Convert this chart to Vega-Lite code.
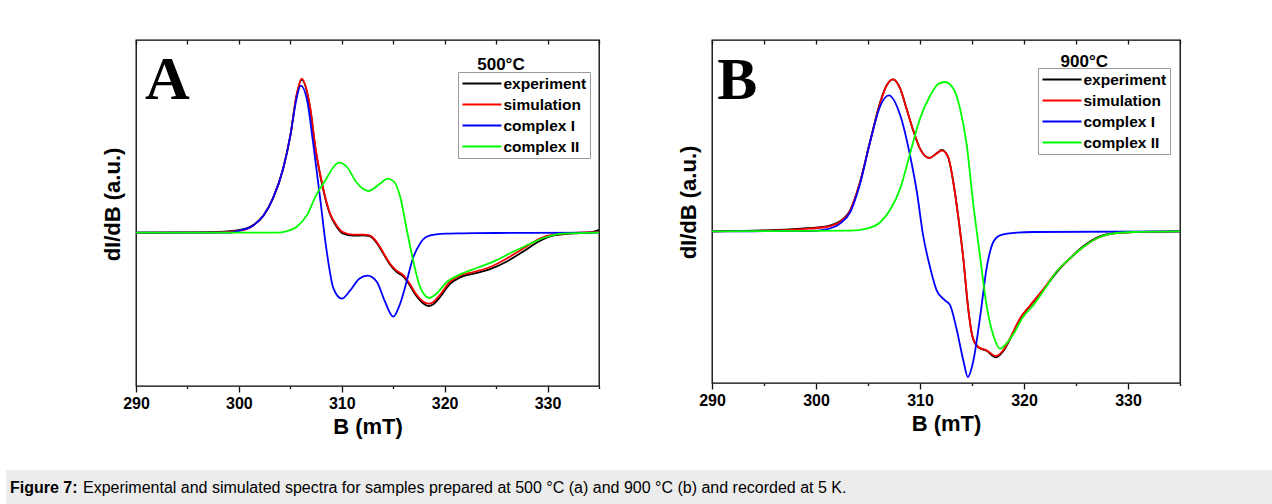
{
"$schema": "https://vega.github.io/schema/vega-lite/v6.json",
"autosize": {"type": "pad"},
"padding": {"left": 6, "top": 38, "right": 0, "bottom": 0},
"background": "white",
"spacing": 430,
"bounds": "flush",
"config": {
  "view": {"stroke": "#000", "strokeWidth": 1.3},
  "axis": {"grid": false, "labelFlush": false, "labelOverlap": false, "labelFont": "Liberation Sans", "labelFontWeight": "bold", "labelFontSize": 16, "labelColor": "#000", "titleFont": "Liberation Sans", "titleFontWeight": "bold", "titleFontSize": 22, "titleColor": "#000", "tickColor": "#111", "tickWidth": 1.3},
  "legend": {"labelFont": "Liberation Sans", "labelFontWeight": "bold", "labelFontSize": 15.5, "labelColor": "#000"}
},
"vconcat": [
{
"hconcat": [
{
  "width": 17, "height": 430, "view": {"stroke": null},
  "data": {"values": [{"t": " "}]},
  "mark": {"type": "text"},
  "encoding": {"text": {"field": "t"}}
},
{
  "width": 463, "height": 346,
  "data": {"values": [
{"s":"experiment","B":290,"v":0},{"s":"experiment","B":295,"v":0.3},{"s":"experiment","B":298,"v":0.7},{"s":"experiment","B":300.1,"v":2.7},{"s":"experiment","B":301.4,"v":7.7},{"s":"experiment","B":302.4,"v":17.3},{"s":"experiment","B":303.3,"v":34},{"s":"experiment","B":304.3,"v":64},{"s":"experiment","B":305,"v":97},{"s":"experiment","B":305.6,"v":137},{"s":"experiment","B":306.1,"v":153},{"s":"experiment","B":306.9,"v":126},{"s":"experiment","B":307.5,"v":80},{"s":"experiment","B":308.2,"v":43},{"s":"experiment","B":308.8,"v":20},{"s":"experiment","B":309.5,"v":6},{"s":"experiment","B":310.1,"v":-0.7},{"s":"experiment","B":311.1,"v":-3},{"s":"experiment","B":312.1,"v":-2.7},{"s":"experiment","B":312.7,"v":-3.3},{"s":"experiment","B":313.4,"v":-10.3},{"s":"experiment","B":314,"v":-20.3},{"s":"experiment","B":314.7,"v":-32},{"s":"experiment","B":315.3,"v":-39},{"s":"experiment","B":316,"v":-44},{"s":"experiment","B":316.6,"v":-52.5},{"s":"experiment","B":317.2,"v":-62.5},{"s":"experiment","B":317.9,"v":-70.5},{"s":"experiment","B":318.4,"v":-73.3},{"s":"experiment","B":318.9,"v":-71.5},{"s":"experiment","B":319.5,"v":-65},{"s":"experiment","B":320.5,"v":-51.5},{"s":"experiment","B":321.5,"v":-44.7},{"s":"experiment","B":322.8,"v":-41},{"s":"experiment","B":324.4,"v":-36.5},{"s":"experiment","B":326,"v":-29},{"s":"experiment","B":327.6,"v":-19},{"s":"experiment","B":329.2,"v":-8.5},{"s":"experiment","B":330.5,"v":-3},{"s":"experiment","B":332.5,"v":-0.7},{"s":"experiment","B":334,"v":0},{"s":"experiment","B":334.6,"v":1.5},{"s":"experiment","B":335,"v":3},
{"s":"simulation","B":290,"v":0},{"s":"simulation","B":298,"v":0.3},{"s":"simulation","B":300.1,"v":2},{"s":"simulation","B":301.4,"v":7.3},{"s":"simulation","B":302.4,"v":17.3},{"s":"simulation","B":303.3,"v":34},{"s":"simulation","B":304.3,"v":64},{"s":"simulation","B":305,"v":97},{"s":"simulation","B":305.6,"v":137},{"s":"simulation","B":306.1,"v":154},{"s":"simulation","B":306.9,"v":127},{"s":"simulation","B":307.5,"v":81},{"s":"simulation","B":308.2,"v":44},{"s":"simulation","B":308.8,"v":21},{"s":"simulation","B":309.5,"v":7.3},{"s":"simulation","B":310.1,"v":0.7},{"s":"simulation","B":311.1,"v":-2},{"s":"simulation","B":312.1,"v":-2},{"s":"simulation","B":312.7,"v":-2.7},{"s":"simulation","B":313.4,"v":-9.3},{"s":"simulation","B":314,"v":-19.3},{"s":"simulation","B":314.7,"v":-31},{"s":"simulation","B":315.3,"v":-37.7},{"s":"simulation","B":316,"v":-42.7},{"s":"simulation","B":316.6,"v":-51},{"s":"simulation","B":317.2,"v":-61},{"s":"simulation","B":317.9,"v":-68.7},{"s":"simulation","B":318.4,"v":-71},{"s":"simulation","B":318.9,"v":-69.3},{"s":"simulation","B":319.5,"v":-62.7},{"s":"simulation","B":320.5,"v":-49.3},{"s":"simulation","B":321.5,"v":-42.7},{"s":"simulation","B":322.8,"v":-39.3},{"s":"simulation","B":324.4,"v":-34.3},{"s":"simulation","B":326,"v":-26},{"s":"simulation","B":327.6,"v":-16},{"s":"simulation","B":329.2,"v":-6},{"s":"simulation","B":330.5,"v":-2},{"s":"simulation","B":332.5,"v":-0.3},{"s":"simulation","B":335,"v":0.7},
{"s":"complex I","B":290,"v":0},{"s":"complex I","B":299,"v":0},{"s":"complex I","B":300.1,"v":2.3},{"s":"complex I","B":301.4,"v":7.3},{"s":"complex I","B":302.4,"v":17.3},{"s":"complex I","B":303.3,"v":34},{"s":"complex I","B":304.3,"v":64},{"s":"complex I","B":305,"v":97},{"s":"complex I","B":305.6,"v":134},{"s":"complex I","B":306,"v":147},{"s":"complex I","B":306.6,"v":134},{"s":"complex I","B":307.2,"v":91},{"s":"complex I","B":307.9,"v":34},{"s":"complex I","B":308.5,"v":-16},{"s":"complex I","B":309.2,"v":-56},{"s":"complex I","B":310,"v":-66},{"s":"complex I","B":310.8,"v":-58},{"s":"complex I","B":311.7,"v":-46},{"s":"complex I","B":312.5,"v":-43},{"s":"complex I","B":313.4,"v":-49},{"s":"complex I","B":314.2,"v":-69},{"s":"complex I","B":315,"v":-84},{"s":"complex I","B":315.6,"v":-73},{"s":"complex I","B":316.3,"v":-49},{"s":"complex I","B":316.9,"v":-26},{"s":"complex I","B":317.6,"v":-11},{"s":"complex I","B":318.2,"v":-4.3},{"s":"complex I","B":319.2,"v":-1.7},{"s":"complex I","B":320.2,"v":-1},{"s":"complex I","B":321.8,"v":-0.7},{"s":"complex I","B":325,"v":-0.3},{"s":"complex I","B":335,"v":0},
{"s":"complex II","B":290,"v":0},{"s":"complex II","B":303.7,"v":0},{"s":"complex II","B":304.6,"v":1.3},{"s":"complex II","B":305.6,"v":5.7},{"s":"complex II","B":306.6,"v":17.3},{"s":"complex II","B":307.5,"v":37.3},{"s":"complex II","B":308.5,"v":54},{"s":"complex II","B":309.2,"v":65.7},{"s":"complex II","B":309.7,"v":70},{"s":"complex II","B":310.5,"v":65.7},{"s":"complex II","B":311.4,"v":50.7},{"s":"complex II","B":312.6,"v":41.7},{"s":"complex II","B":313.7,"v":49},{"s":"complex II","B":314.5,"v":54},{"s":"complex II","B":315.1,"v":50.7},{"s":"complex II","B":315.7,"v":35},{"s":"complex II","B":316.3,"v":4},{"s":"complex II","B":316.9,"v":-26},{"s":"complex II","B":317.6,"v":-54},{"s":"complex II","B":318.5,"v":-65.3},{"s":"complex II","B":319.2,"v":-61},{"s":"complex II","B":320.2,"v":-49.3},{"s":"complex II","B":321.5,"v":-41.7},{"s":"complex II","B":323.4,"v":-34.3},{"s":"complex II","B":325,"v":-27.7},{"s":"complex II","B":326.6,"v":-19.3},{"s":"complex II","B":328.3,"v":-11},{"s":"complex II","B":329.9,"v":-4.3},{"s":"complex II","B":331.5,"v":-1},{"s":"complex II","B":335,"v":0}
  ]},
  "layer": [
    {
      "mark": {"type": "line", "strokeWidth": 1.8, "interpolate": "monotone"},
      "encoding": {
        "x": {"field": "B", "type": "quantitative", "scale": {"domain": [290, 335], "nice": false, "zero": false},
              "axis": {"orient": "bottom", "values": [290, 300, 310, 320, 330], "title": "B (mT)", "domain": false, "tickSize": 6, "labelPadding": 3, "titlePadding": 5}},
        "y": {"field": "v", "type": "quantitative", "scale": {"domain": [-153.3, 192.7], "nice": false, "zero": false},
              "axis": {"orient": "left", "title": "dI/dB (a.u.)", "domain": false, "ticks": false, "labels": false, "titlePadding": 12, "titleY": 164}},
        "color": {"field": "s", "type": "nominal",
                  "scale": {"domain": ["experiment", "simulation", "complex I", "complex II"], "range": ["#000000", "#ff0000", "#0000ff", "#00ff00"]},
                  "legend": {"orient": "none", "legendX": 322, "legendY": 32, "title": null, "symbolType": "M-2.6,0H2.6", "symbolSize": 225, "symbolStrokeWidth": 1.8, "symbolOffset": 12.5, "strokeColor": "#999", "padding": 3, "rowPadding": 4, "labelOffset": 13, "labelLimit": 300}}
      }
    },
    {
      "data": {"values": [{"B": 325.47, "v": 162.7, "t": "500°C"}]},
      "mark": {"type": "text", "font": "Liberation Sans", "fontWeight": "bold", "fontSize": 17, "align": "center", "baseline": "alphabetic", "color": "#000"},
      "encoding": {
        "x": {"field": "B", "type": "quantitative", "axis": {"orient": "bottom", "values": [295, 305, 315, 325, 335], "labels": false, "domain": false, "tickSize": 2.5, "title": null}},
        "y": {"field": "v", "type": "quantitative", "axis": null},
        "text": {"field": "t"}
      }
    },
    {
      "data": {"values": [{"B": 290.87, "v": 134, "t": "A"}]},
      "mark": {"type": "text", "font": "Liberation Serif", "fontWeight": "bold", "fontSize": 62, "align": "left", "baseline": "alphabetic", "color": "#000"},
      "encoding": {
        "x": {"field": "B", "type": "quantitative", "axis": {"orient": "top", "values": [290, 295, 300, 305, 310, 315, 320, 325, 330, 335], "labels": false, "domain": false, "tickSize": -4, "title": null}},
        "y": {"field": "v", "type": "quantitative", "axis": null},
        "text": {"field": "t"}
      }
    }
  ],
  "resolve": {"axis": {"x": "independent", "y": "independent"}}
},
{
  "width": 468, "height": 343,
  "data": {"values": [
{"s":"experiment","B":290,"v":0},{"s":"experiment","B":295.3,"v":1},{"s":"experiment","B":298.5,"v":2.7},{"s":"experiment","B":301,"v":5},{"s":"experiment","B":302.3,"v":10},{"s":"experiment","B":303.3,"v":21.5},{"s":"experiment","B":304.2,"v":48},{"s":"experiment","B":305.2,"v":90},{"s":"experiment","B":306.2,"v":130},{"s":"experiment","B":306.8,"v":146},{"s":"experiment","B":307.4,"v":152},{"s":"experiment","B":308.1,"v":142.7},{"s":"experiment","B":308.7,"v":122.7},{"s":"experiment","B":309.4,"v":99.3},{"s":"experiment","B":310,"v":82.7},{"s":"experiment","B":310.9,"v":73.3},{"s":"experiment","B":311.6,"v":78},{"s":"experiment","B":312.1,"v":81.5},{"s":"experiment","B":312.7,"v":74.3},{"s":"experiment","B":313.2,"v":49.3},{"s":"experiment","B":313.7,"v":12.7},{"s":"experiment","B":314.2,"v":-30.7},{"s":"experiment","B":314.6,"v":-74},{"s":"experiment","B":315.1,"v":-107.3},{"s":"experiment","B":315.6,"v":-116},{"s":"experiment","B":316.4,"v":-119.5},{"s":"experiment","B":317.3,"v":-126},{"s":"experiment","B":318,"v":-120},{"s":"experiment","B":318.8,"v":-105},{"s":"experiment","B":319.6,"v":-88},{"s":"experiment","B":320.6,"v":-74.5},{"s":"experiment","B":321.9,"v":-58},{"s":"experiment","B":323.1,"v":-41.5},{"s":"experiment","B":324.4,"v":-27.3},{"s":"experiment","B":325.7,"v":-15},{"s":"experiment","B":327.3,"v":-5},{"s":"experiment","B":328.9,"v":-1.7},{"s":"experiment","B":330.5,"v":-0.7},{"s":"experiment","B":335,"v":0},
{"s":"simulation","B":290,"v":0},{"s":"simulation","B":295.3,"v":0.7},{"s":"simulation","B":298.5,"v":2},{"s":"simulation","B":301,"v":4.3},{"s":"simulation","B":302.3,"v":9.3},{"s":"simulation","B":303.3,"v":21},{"s":"simulation","B":304.2,"v":47.7},{"s":"simulation","B":305.2,"v":89.3},{"s":"simulation","B":306.2,"v":129.3},{"s":"simulation","B":306.8,"v":146},{"s":"simulation","B":307.4,"v":152},{"s":"simulation","B":308.1,"v":142.7},{"s":"simulation","B":308.7,"v":122.7},{"s":"simulation","B":309.4,"v":99.3},{"s":"simulation","B":310,"v":82.7},{"s":"simulation","B":310.9,"v":73.3},{"s":"simulation","B":311.6,"v":77.7},{"s":"simulation","B":312.1,"v":81},{"s":"simulation","B":312.7,"v":74.3},{"s":"simulation","B":313.2,"v":49.3},{"s":"simulation","B":313.7,"v":12.7},{"s":"simulation","B":314.2,"v":-30.7},{"s":"simulation","B":314.6,"v":-74},{"s":"simulation","B":315.1,"v":-107.3},{"s":"simulation","B":315.6,"v":-115.7},{"s":"simulation","B":316.4,"v":-119},{"s":"simulation","B":317.3,"v":-124.7},{"s":"simulation","B":318,"v":-119},{"s":"simulation","B":318.8,"v":-104},{"s":"simulation","B":319.6,"v":-87.3},{"s":"simulation","B":320.6,"v":-74},{"s":"simulation","B":321.9,"v":-57.3},{"s":"simulation","B":323.1,"v":-40.7},{"s":"simulation","B":324.4,"v":-27.3},{"s":"simulation","B":325.7,"v":-15.7},{"s":"simulation","B":327.3,"v":-5.7},{"s":"simulation","B":328.9,"v":-1.7},{"s":"simulation","B":330.5,"v":-0.7},{"s":"simulation","B":335,"v":0},
{"s":"complex I","B":290,"v":0},{"s":"complex I","B":299.4,"v":0.3},{"s":"complex I","B":301,"v":2},{"s":"complex I","B":302.3,"v":7.7},{"s":"complex I","B":303.3,"v":19.3},{"s":"complex I","B":304.2,"v":46},{"s":"complex I","B":305.2,"v":89.3},{"s":"complex I","B":306.2,"v":126},{"s":"complex I","B":307,"v":136},{"s":"complex I","B":308.1,"v":116},{"s":"complex I","B":309.04,"v":76},{"s":"complex I","B":309.7,"v":39.3},{"s":"complex I","B":310.3,"v":-4},{"s":"complex I","B":311,"v":-37.3},{"s":"complex I","B":311.6,"v":-59},{"s":"complex I","B":312.4,"v":-69},{"s":"complex I","B":312.9,"v":-74},{"s":"complex I","B":313.5,"v":-97},{"s":"complex I","B":314.2,"v":-130.7},{"s":"complex I","B":314.6,"v":-145.7},{"s":"complex I","B":315.1,"v":-131},{"s":"complex I","B":315.8,"v":-84},{"s":"complex I","B":316.4,"v":-37},{"s":"complex I","B":317.05,"v":-10.7},{"s":"complex I","B":317.7,"v":-4},{"s":"complex I","B":319.3,"v":-1.3},{"s":"complex I","B":320.9,"v":-0.7},{"s":"complex I","B":335,"v":0},
{"s":"complex II","B":290,"v":0},{"s":"complex II","B":303.3,"v":0.7},{"s":"complex II","B":304.9,"v":2.7},{"s":"complex II","B":306.2,"v":9.3},{"s":"complex II","B":307.1,"v":21},{"s":"complex II","B":308.1,"v":42.7},{"s":"complex II","B":309,"v":76},{"s":"complex II","B":310,"v":112.7},{"s":"complex II","B":311,"v":136},{"s":"complex II","B":311.8,"v":147.7},{"s":"complex II","B":312.4,"v":149.3},{"s":"complex II","B":313.2,"v":142.7},{"s":"complex II","B":313.85,"v":122.7},{"s":"complex II","B":314.5,"v":86},{"s":"complex II","B":315.1,"v":29.3},{"s":"complex II","B":315.8,"v":-27.3},{"s":"complex II","B":316.4,"v":-74},{"s":"complex II","B":317.05,"v":-104},{"s":"complex II","B":317.7,"v":-117.3},{"s":"complex II","B":318.3,"v":-112.3},{"s":"complex II","B":319.1,"v":-100.7},{"s":"complex II","B":319.9,"v":-85.7},{"s":"complex II","B":320.9,"v":-74},{"s":"complex II","B":321.9,"v":-59},{"s":"complex II","B":323.1,"v":-40.7},{"s":"complex II","B":324.4,"v":-27.3},{"s":"complex II","B":325.7,"v":-15.7},{"s":"complex II","B":327.3,"v":-5.7},{"s":"complex II","B":328.9,"v":-1.7},{"s":"complex II","B":330.5,"v":-0.7},{"s":"complex II","B":335,"v":0}
  ]},
  "layer": [
    {
      "mark": {"type": "line", "strokeWidth": 1.8, "interpolate": "monotone"},
      "encoding": {
        "x": {"field": "B", "type": "quantitative", "scale": {"domain": [290, 335], "nice": false, "zero": false},
              "axis": {"orient": "bottom", "values": [290, 300, 310, 320, 330], "title": "B (mT)", "domain": false, "tickSize": 6, "labelPadding": 3, "titlePadding": 5}},
        "y": {"field": "v", "type": "quantitative", "scale": {"domain": [-151.7, 191.3], "nice": false, "zero": false},
              "axis": {"orient": "left", "title": "dI/dB (a.u.)", "domain": false, "ticks": false, "labels": false, "titlePadding": 12, "titleY": 162}},
        "color": {"field": "s", "type": "nominal",
                  "scale": {"domain": ["experiment", "simulation", "complex I", "complex II"], "range": ["#000000", "#ff0000", "#0000ff", "#00ff00"]},
                  "legend": {"orient": "none", "legendX": 326, "legendY": 28, "title": null, "symbolType": "M-2.6,0H2.6", "symbolSize": 225, "symbolStrokeWidth": 1.8, "symbolOffset": 12.5, "strokeColor": "#999", "padding": 3, "rowPadding": 4, "labelOffset": 13, "labelLimit": 300}}
      }
    },
    {
      "data": {"values": [{"B": 325.8, "v": 164.6, "t": "900°C"}]},
      "mark": {"type": "text", "font": "Liberation Sans", "fontWeight": "bold", "fontSize": 17, "align": "center", "baseline": "alphabetic", "color": "#000"},
      "encoding": {
        "x": {"field": "B", "type": "quantitative", "axis": {"orient": "bottom", "values": [295, 305, 315, 325, 335], "labels": false, "domain": false, "tickSize": 2.5, "title": null}},
        "y": {"field": "v", "type": "quantitative", "axis": null},
        "text": {"field": "t"}
      }
    },
    {
      "data": {"values": [{"B": 290.5, "v": 132, "t": "B"}]},
      "mark": {"type": "text", "font": "Liberation Serif", "fontWeight": "bold", "fontSize": 60, "align": "left", "baseline": "alphabetic", "color": "#000"},
      "encoding": {
        "x": {"field": "B", "type": "quantitative", "axis": {"orient": "top", "values": [290, 295, 300, 305, 310, 315, 320, 325, 330, 335], "labels": false, "domain": false, "tickSize": -4, "title": null}},
        "y": {"field": "v", "type": "quantitative", "axis": null},
        "text": {"field": "t"}
      }
    }
  ],
  "resolve": {"axis": {"x": "independent", "y": "independent"}}
}
],
"spacing": 113,
"bounds": "flush",
"resolve": {"scale": {"x": "independent", "y": "independent", "color": "independent"}, "legend": {"color": "independent"}, "axis": {"x": "independent", "y": "independent"}}
},
{
  "width": 1266, "height": 36, "view": {"fill": "#ececec", "stroke": null},
  "layer": [
    {
      "data": {"values": [{"t": "Figure 7:"}]},
      "mark": {"type": "text", "font": "Liberation Sans", "fontWeight": "bold", "fontSize": 16, "align": "left", "baseline": "middle", "color": "#000"},
      "encoding": {"x": {"value": 4}, "y": {"value": 18}, "text": {"field": "t"}}
    },
    {
      "data": {"values": [{"t": "Experimental and simulated spectra for samples prepared at 500 °C (a) and 900 °C (b) and recorded at 5 K."}]},
      "mark": {"type": "text", "font": "Liberation Sans", "fontWeight": "normal", "fontSize": 16, "align": "left", "baseline": "middle", "color": "#000"},
      "encoding": {"x": {"value": 77}, "y": {"value": 18}, "text": {"field": "t"}}
    }
  ]
}
]
}
